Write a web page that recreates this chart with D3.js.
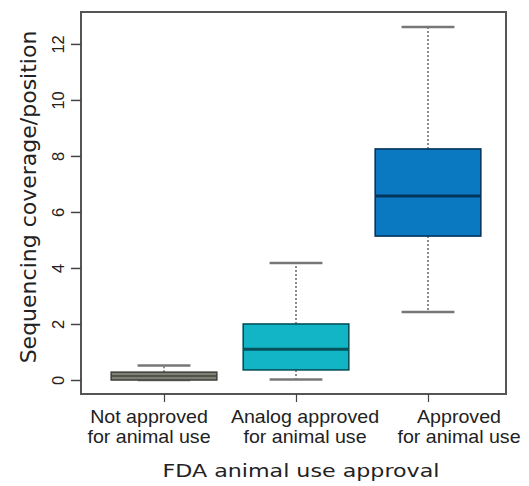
<!DOCTYPE html>
<html>
<head>
<meta charset="utf-8">
<script src="https://cdn.jsdelivr.net/npm/d3@7"></script>
<style>
  body { margin: 0; background: #fff; }
  svg { display: block; }
  .tick text { font-family: "Liberation Sans", Arial, sans-serif; }
</style>
</head>
<body>
<svg id="chart" width="529" height="486"></svg>
<script>
// groups on the x axis
const categories = ['Not approved', 'Analog approved', 'Approved'];
const labelLine2 = ['for animal use', 'for animal use', 'for animal use'];
// box stats
const whiskerLow  = [0.00, 0.02, 2.43];
const quartile1   = [0.00, 0.36, 5.14];
const medians     = [0.14, 1.10, 6.57];
const quartile3   = [0.28, 2.00, 8.25];
const whiskerHigh = [0.52, 4.18, 12.60];
const yTicks = [0, 2, 4, 6, 8, 10, 12];

const fills   = ['#7f8074', '#12b5c6', '#0b79c1'];
const strokes = ['#44453d', '#06525b', '#04355c'];
// labels in the figure sit a bit off their ticks
const labelShift = [-15, 9, 31];

const margin = {top: 12, right: 23, bottom: 92, left: 81};
const width = 529, height = 486;
const svg = d3.select('#chart');

const x = d3.scaleLinear()
  .domain([1, 3])
  .range([164, 428]);
const y = d3.scaleLinear()
  .domain([-0.5, 13.14])
  .range([height - margin.bottom, margin.top]);

const boxW = x(0.8) - x(0);
const capW = boxW * 0.5;

const data = categories.map((c, i) => ({
  i, c,
  lo: whiskerLow[i], q1: quartile1[i], med: medians[i], q3: quartile3[i], hi: whiskerHigh[i]
}));

const g = svg.append('g');
const boxes = g.selectAll('g.box').data(data).enter().append('g').attr('class', 'box');

// dashed whiskers
boxes.append('line')
  .attr('x1', d => x(d.i + 1)).attr('x2', d => x(d.i + 1))
  .attr('y1', d => y(d.q3)).attr('y2', d => y(d.hi))
  .attr('stroke', '#666').attr('stroke-width', 1.5).attr('stroke-dasharray', '2,2');
boxes.append('line')
  .attr('x1', d => x(d.i + 1)).attr('x2', d => x(d.i + 1))
  .attr('y1', d => y(d.q1)).attr('y2', d => y(d.lo))
  .attr('stroke', '#666').attr('stroke-width', 1.5).attr('stroke-dasharray', '2,2');
// caps
['hi', 'lo'].forEach(k => {
  boxes.append('line')
    .attr('x1', d => x(d.i + 1) - capW / 2).attr('x2', d => x(d.i + 1) + capW / 2)
    .attr('y1', d => y(d[k])).attr('y2', d => y(d[k]))
    .attr('stroke', '#777').attr('stroke-width', 2.5);
});
// boxes
boxes.append('rect')
  .attr('x', d => x(d.i + 1) - boxW / 2)
  .attr('width', boxW)
  .attr('y', d => y(d.q3))
  .attr('height', d => y(d.q1) - y(d.q3))
  .attr('fill', d => fills[d.i])
  .attr('stroke', d => strokes[d.i])
  .attr('stroke-width', 1.6);
// medians
boxes.append('line')
  .attr('x1', d => x(d.i + 1) - boxW / 2).attr('x2', d => x(d.i + 1) + boxW / 2)
  .attr('y1', d => y(d.med)).attr('y2', d => y(d.med))
  .attr('stroke', d => strokes[d.i]).attr('stroke-width', d => d.i === 0 ? 1.5 : 3);

// frame
svg.append('rect')
  .attr('x', margin.left).attr('y', margin.top)
  .attr('width', width - margin.left - margin.right)
  .attr('height', height - margin.top - margin.bottom)
  .attr('fill', 'none').attr('stroke', '#555').attr('stroke-width', 2);

// y axis, labels rotated like base R
const yAxis = svg.append('g')
  .attr('transform', `translate(${margin.left},0)`)
  .call(d3.axisLeft(y).tickValues(yTicks).tickSize(10).tickPadding(4));
yAxis.select('.domain').remove();
yAxis.selectAll('.tick line').attr('stroke', '#444').attr('stroke-width', 1.5);
yAxis.selectAll('.tick text')
  .attr('x', null).attr('dy', null)
  .attr('text-anchor', 'middle')
  .attr('transform', 'translate(-17,0) rotate(-90)')
  .style('font-size', '16.5px').attr('fill', '#222');

// x axis ticks
const xAxis = svg.append('g')
  .attr('transform', `translate(0,${height - margin.bottom})`)
  .call(d3.axisBottom(x).tickValues([1, 2, 3]).tickSize(8).tickFormat(''));
xAxis.select('.domain').remove();
xAxis.selectAll('.tick line').attr('stroke', '#444').attr('stroke-width', 1.2);

// two-line category labels, a little wide like the source
const lab = svg.append('g')
  .style('font-family', '"Liberation Sans", Arial, sans-serif')
  .style('font-size', '18px').attr('fill', '#222').attr('text-anchor', 'middle');
data.forEach(d => {
  const cx = x(d.i + 1) + labelShift[d.i];
  const t = lab.append('g').attr('transform', `translate(${cx},0) scale(1.09,1)`);
  t.append('text').attr('x', 0).attr('y', 423).text(d.c);
  t.append('text').attr('x', 0).attr('y', 443).text(labelLine2[d.i]);
});

// axis titles
svg.append('text')
  .attr('x', 301).attr('y', 477)
  .attr('text-anchor', 'middle')
  .attr('textLength', 277).attr('lengthAdjust', 'spacingAndGlyphs')
  .style('font-family', '"DejaVu Sans", sans-serif').style('font-size', '18.5px')
  .attr('fill', '#222')
  .text('FDA animal use approval');
svg.append('text')
  .attr('transform', 'translate(36,197) rotate(-90)')
  .attr('text-anchor', 'middle')
  .style('font-family', '"DejaVu Sans", sans-serif').style('font-size', '22px')
  .attr('fill', '#222')
  .text('Sequencing coverage/position');
</script>
</body>
</html>
